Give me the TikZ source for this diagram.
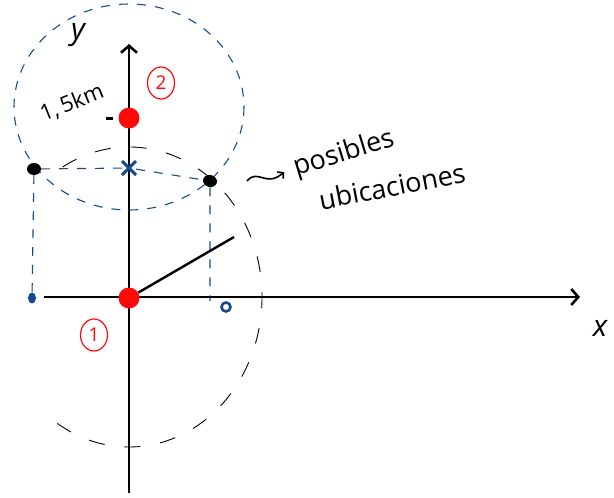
\documentclass[tikz,border=0pt]{standalone}
\usepackage{fontspec}
\setmainfont{Open Sans}
\usepackage{tikz}
\usetikzlibrary{arrows.meta,shapes.misc,shapes.geometric,backgrounds}
\definecolor{SkBlue}{HTML}{134C8C}
\definecolor{SkRed}{HTML}{FF0A0A}

\begin{document}
\begin{tikzpicture}[
  x=1pt,
  y=-1pt,
  axis/.style={
    line width=2.6pt,
    -{Straight Barb[length=7pt,width=16pt,line width=2.6pt]}
  },
  reddot/.style={
    circle,
    fill=SkRed,
    minimum size=21pt,
    inner sep=0pt
  },
  tag/.style={
    ellipse,
    draw=SkRed,
    line width=1.2pt,
    text=SkRed,
    minimum width=27pt,
    minimum height=32pt,
    inner sep=0pt,
    font=\fontsize{19}{19}\selectfont
  },
  spot/.style={
    ellipse,
    fill=black,
    minimum width=14pt,
    minimum height=12pt,
    inner sep=0pt
  },
  bluedash/.style={draw=SkBlue, line width=1.1pt, dash pattern=on 9pt off 9pt},
  blackdash/.style={draw=black, line width=0.9pt, dash pattern=on 16pt off 20pt},
  hand/.style={font=\fontsize{22}{26}\selectfont},
]
\useasboundingbox (0,0) rectangle (614,498);

% axes
\coordinate (xstart) at (44,297);
\coordinate (xend) at (580,297);
\coordinate (ystart) at (129,493);
\coordinate (yend) at (129,44);
\draw[axis] (xstart) -- (xend);
\draw[axis] (ystart) -- (yend);
\node[hand,font=\fontsize{30}{30}\selectfont\itshape] (ylab) at (78,35) {y};
\node[hand,font=\fontsize{30}{30}\selectfont\itshape] (xlab) at (600,328) {x};

% the two stations
\node[reddot] (st1) at (129,298) {};
\node[reddot] (st2) at (129,118) {};
\node[tag] (tag1) at (94,335) {1};
\node[tag] (tag2) at (161,83) {2};
\draw[line width=3pt] ([xshift=-5pt]st2.west) -- ++(-7,0);
\node[hand,rotate=22] (dist) at (72,103) {1,\,5km};

% circles
\draw[bluedash] (129,107) ellipse [x radius=115, y radius=103];
\draw[blackdash] (129,297) ++(240:133 and 150) arc [start angle=240, end angle=490, x radius=133, y radius=150];
\coordinate (rtip) at (234,237);
\draw[line width=2.4pt] (st1) -- (rtip);

% possible locations
\node[cross out,draw=SkBlue,line width=3pt,minimum size=11pt,inner sep=0pt] (mid) at (129,168) {};
\node[spot] (locL) at (34,169) {};
\node[spot,rotate=-15] (locR) at (210,181) {};
\node[ellipse,fill=SkBlue,minimum width=8pt,minimum height=11pt,inner sep=0pt] (footL) at (32,298) {};
\node[circle,draw=SkBlue,line width=2.6pt,minimum size=9pt,inner sep=0pt] (footR) at (226,307) {};

\begin{scope}[on background layer]
  \draw[bluedash] (locL) -- (mid) -- (locR);
  \draw[bluedash] (locL) -- (footL);
  \draw[bluedash] (locR) -- (locR |- footR.north);
\end{scope}

% note
\node[hand,font=\fontsize{27}{30}\selectfont,rotate=17] (note1) at (344,154) {posibles};
\node[hand,font=\fontsize{27}{30}\selectfont,rotate=11] (note2) at (392,186) {ubicaciones};
\coordinate (wave0) at (247,181);
\coordinate (wave1) at (284,172);
\draw[line width=1.6pt,-{Straight Barb[length=4pt,width=9pt,line width=1.6pt]}]
  (wave0) .. controls (258,168) and (266,188) .. (wave1);
\end{tikzpicture}
\end{document}
